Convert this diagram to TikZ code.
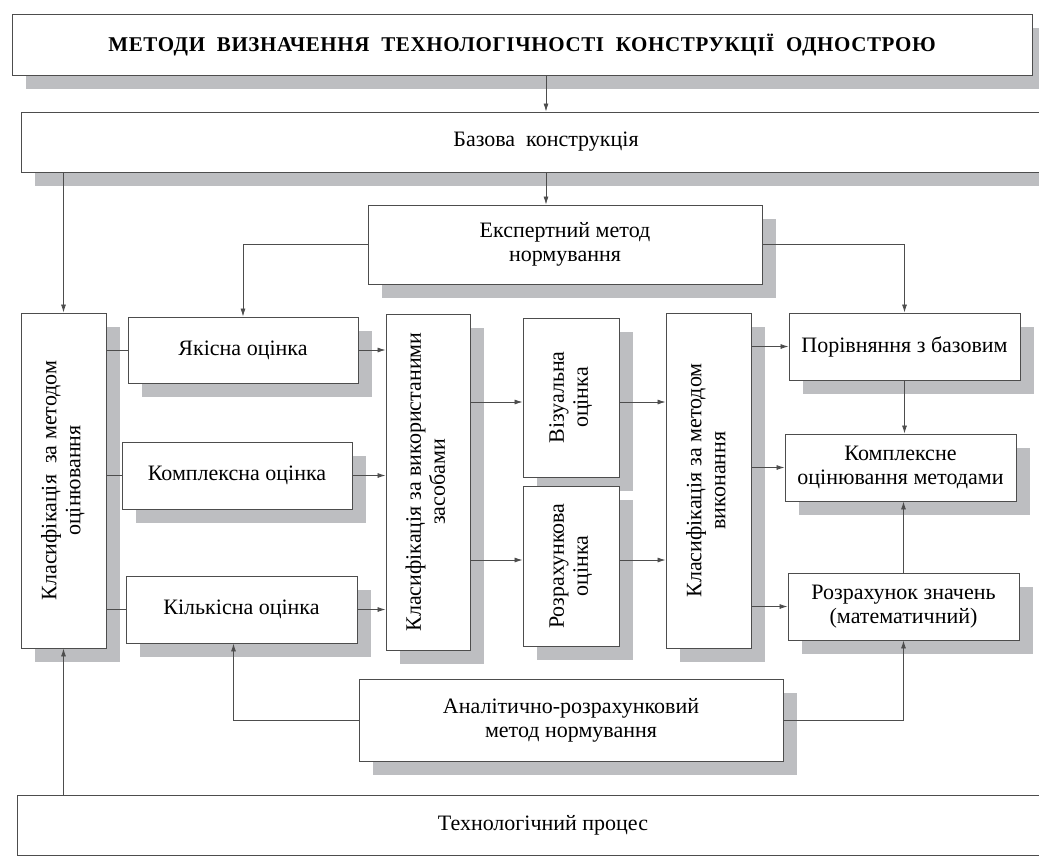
\documentclass[tikz,border=0pt]{standalone}
\usepackage{fontspec}
\setmainfont{Liberation Serif}
\usepackage{graphicx}
\usetikzlibrary{arrows.meta,shadows}
\definecolor{shadowgray}{HTML}{BDBEC1}
\definecolor{linegray}{HTML}{4D4D4D}
\tikzset{
 box/.style={draw=linegray,line width=0.9pt,fill=white,inner sep=0pt,align=center,
  font=\fontsize{22}{24}\selectfont,
  drop shadow={shadow xshift=14pt,shadow yshift=-14pt,fill=shadowgray,opacity=1}},
 arr/.style={draw=linegray,line width=0.8pt,-{Latex[length=8pt,width=5pt]}},
 con/.style={draw=linegray,line width=0.8pt}
}
\newcommand{\vtext}[1]{\rotatebox{90}{\begin{tabular}{@{}c@{}}#1\end{tabular}}}
\begin{document}
\begin{tikzpicture}[x=1pt,y=-1pt]
 \useasboundingbox (0,0) rectangle (1039,855);
 \clip (0,0) rectangle (1039,855);
 \node[box,minimum width=1020pt,minimum height=61pt] (title) at (522,44.5)
  {\fontsize{21}{23}\selectfont\bfseries\addfontfeature{LetterSpace=3}МЕТОДИ\ \ ВИЗНАЧЕННЯ\ \ ТЕХНОЛОГІЧНОСТІ\ \ КОНСТРУКЦІЇ\ \ ОДНОСТРОЮ};
 \node[box,minimum width=1050pt,minimum height=60pt] (base) at (546,142) {Базова\ \ конструкція};
 \node[box,minimum width=394pt,minimum height=79pt] (expert) at (565,244.5) {Експертний метод\\нормування};
 \node[box,minimum width=85pt,minimum height=335pt] (kmo) at (63.5,480.5) {\vtext{Класифікація\ \ за методом\\оцінювання}};
 \node[box,minimum width=230pt,minimum height=66pt] (yak) at (243,350) {Якісна оцінка};
 \node[box,minimum width=230pt,minimum height=67pt] (kompl) at (237,475.5) {Комплексна оцінка};
 \node[box,minimum width=231pt,minimum height=67pt] (kilk) at (241.5,609.5) {Кількісна оцінка};
 \node[box,minimum width=84pt,minimum height=336pt] (kzas) at (428,482) {\vtext{Класифікація за використаними\\засобами}};
 \node[box,minimum width=96pt,minimum height=159pt] (viz) at (571,397.5) {\vtext{Візуальна\\оцінка}};
 \node[box,minimum width=96pt,minimum height=160pt] (rozr) at (571,566) {\vtext{Розрахункова\\оцінка}};
 \node[box,minimum width=85pt,minimum height=335pt] (kvyk) at (708.5,480.5) {\vtext{Класифікація за методом\\виконання}};
 \node[box,minimum width=231pt,minimum height=67pt] (por) at (904.5,346.5) {Порівняння з базовим};
 \node[box,minimum width=231pt,minimum height=67pt] (kompo) at (900.5,467.5) {Комплексне\\оцінювання методами};
 \node[box,minimum width=231pt,minimum height=67pt] (rozn) at (903.5,606.5) {Розрахунок значень\\(математичний)};
 \node[box,minimum width=424pt,minimum height=82pt] (anal) at (571,720) {Аналітично-розрахунковий\\метод нормування};
 \node[box,minimum width=1052pt,minimum height=60pt] (tech) at (543,825) {Технологічний процес};
 \draw[arr] (base.north |- title.south) -- (base.north);
 \draw[arr] (base.south) -- (base.south |- expert.north);
 \draw[arr] (kmo.north |- base.south) -- (kmo.north);
 \draw[arr] (expert.west) -| (yak.north);
 \draw[arr] (expert.east) -| (por.north);
 \draw[con] (kmo.east |- yak.west) -- (yak.west);
 \draw[con] (kmo.east |- kompl.west) -- (kompl.west);
 \draw[con] (kmo.east |- kilk.west) -- (kilk.west);
 \draw[arr] (yak.east) -- (yak.east -| kzas.west);
 \draw[arr] (kompl.east) -- (kompl.east -| kzas.west);
 \draw[arr] (kilk.east) -- (kilk.east -| kzas.west);
 \draw[arr] (kzas.east |- 0,402) -- (viz.west |- 0,402);
 \draw[arr] (kzas.east |- 0,560) -- (rozr.west |- 0,560);
 \draw[arr] (viz.east |- 0,402) -- (kvyk.west |- 0,402);
 \draw[arr] (rozr.east |- 0,560) -- (kvyk.west |- 0,560);
 \draw[arr] (kvyk.east |- por.west) -- (por.west);
 \draw[arr] (kvyk.east |- kompo.west) -- (kompo.west);
 \draw[arr] (kvyk.east |- rozn.west) -- (rozn.west);
 \draw[arr] (por.south) -- (por.south |- kompo.north);
 \draw[arr] (rozn.north) -- (rozn.north |- kompo.south);
 \draw[arr] (anal.east) -| (rozn.south);
 \draw[arr] (anal.west) -| ([xshift=-8pt]kilk.south);
 \draw[arr] (kmo.south |- tech.north) -- (kmo.south);
\end{tikzpicture}
\end{document}
